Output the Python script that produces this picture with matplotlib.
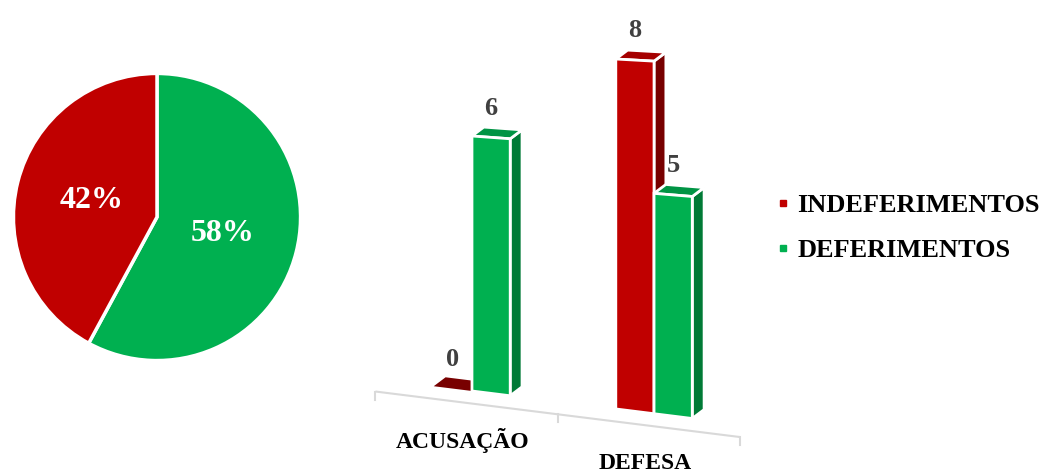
import matplotlib
matplotlib.use('Agg')
import matplotlib.pyplot as plt
from matplotlib.patches import Polygon
from matplotlib.lines import Line2D

plt.rcParams['font.family'] = ['Liberation Serif', 'DejaVu Serif']
plt.rcParams['font.weight'] = 'bold'

categories = ['ACUSAÇÃO', 'DEFESA']
series = ['INDEFERIMENTOS', 'DEFERIMENTOS']
indeferimentos = [0, 8]
deferimentos = [6, 5]

red = '#C00000'
red_top = '#A50000'
red_side = '#780000'
green = '#00B050'
green_top = '#009444'
green_side = '#007A36'

# oblique view of the bar chart
BAR_W = 0.21      # width of one bar, in category units
DEPTH_DX = 0.065  # depth vector (x part)
DEPTH_DY = 0.21   # depth vector (y part)
TILT = 0.535      # floor drops to the right
PERSP = 0.037     # far bars look a bit taller
FLOOR_DROP = 0.28
FLOOR_SHIFT = -0.03


def project(x, z, d=0.0):
    X = x + d * DEPTH_DX
    Y = z * (1 + PERSP * x) - TILT * x + d * DEPTH_DY
    return X, Y


def draw_bar(ax, x0, x1, h, front, top, side):
    edge = dict(edgecolor='white', linewidth=2, joinstyle='miter')
    if h > 0:
        ax.add_patch(Polygon([project(x1, 0), project(x1, 0, 1),
                              project(x1, h, 1), project(x1, h)],
                             facecolor=side, **edge))
        ax.add_patch(Polygon([project(x0, h), project(x1, h),
                              project(x1, h, 1), project(x0, h, 1)],
                             facecolor=top, **edge))
        ax.add_patch(Polygon([project(x0, 0), project(x1, 0),
                              project(x1, h), project(x0, h)],
                             facecolor=front, **edge))
    else:
        ax.add_patch(Polygon([project(x0, 0), project(x1, 0),
                              project(x1, 0, 1), project(x0, 0, 1)],
                             facecolor=side, edgecolor='none'))
    lx = (x0 + x1) / 2
    ly = project(lx, h, 1)[1]
    ax.annotate(str(h), (lx, ly), xytext=(0, 10),
                textcoords='offset points', ha='center', va='baseline',
                fontsize=19, fontweight='bold', color='#404040',
                annotation_clip=False)


fig = plt.figure(figsize=(10.45, 4.7), dpi=100)

# pie of the totals
ax_pie = fig.add_axes([12 / 1045, 108 / 470, 290 / 1045, 290 / 470])
totals = [sum(deferimentos), sum(indeferimentos)]
wedges, _, autotexts = ax_pie.pie(
    totals, colors=[green, red], startangle=90, counterclock=False,
    autopct='%1.0f%%', pctdistance=0.47,
    wedgeprops=dict(edgecolor='white', linewidth=2.5),
    textprops=dict(color='white', fontsize=23, fontweight='bold'))
ax_pie.set_xlim(-1.01, 1.01)
ax_pie.set_ylim(-1.01, 1.01)
ax_pie.set_aspect('equal')

# bars
ax = fig.add_axes([360 / 1045, 0, 400 / 1045, 1])
ax.set_xlim(-0.615, 1.582)
ax.set_ylim(-1.859, 9.2)
ax.axis('off')

for i, cat in enumerate(categories):
    draw_bar(ax, i - BAR_W, i, indeferimentos[i], red, red_top, red_side)
    draw_bar(ax, i, i + BAR_W, deferimentos[i], green, green_top, green_side)

# floor line with category ticks
bounds = [-0.5, 0.5, 1.5]
fx = [b + FLOOR_SHIFT for b in bounds]
fy = [project(b, 0)[1] - FLOOR_DROP for b in bounds]
ax.plot([fx[0], fx[-1]], [fy[0], fy[-1]], color='#D9D9D9', lw=1.5,
        solid_capstyle='butt', clip_on=False)
for x, y in zip(fx, fy):
    ax.plot([x, x], [y, y - 0.19], color='#D9D9D9', lw=1.5, clip_on=False)
for i, cat in enumerate(categories):
    mx = (fx[i] + fx[i + 1]) / 2
    my = (fy[i] + fy[i + 1]) / 2
    ax.annotate(cat, (mx - 0.02, my), xytext=(0, -27), textcoords='offset points',
                ha='center', va='center', fontsize=17, fontweight='bold',
                color='black', annotation_clip=False)

handles = [Line2D([], [], marker='s', markersize=5, linestyle='none', color=c)
           for c in (red, green)]
fig.legend(handles, series, loc='center left', bbox_to_anchor=(0.7447, 0.515),
           frameon=False, handlelength=0.4, handletextpad=0.33,
           labelspacing=0.8, borderpad=0, borderaxespad=0,
           prop=dict(size=19, weight='bold'))

fig.savefig('out.png', dpi=100)
